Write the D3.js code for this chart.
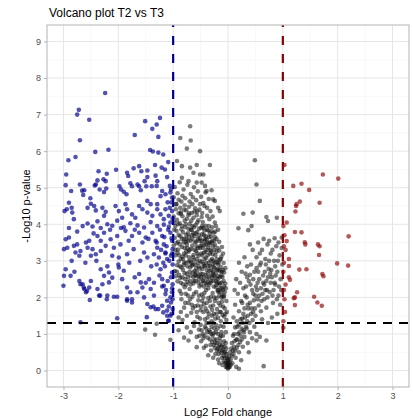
<!DOCTYPE html>
<html>
<head>
<meta charset="utf-8">
<script src="https://cdn.jsdelivr.net/npm/d3@7"></script>
<style>
  body { margin: 0; background: #fff; }
  svg { display: block; font-family: "Liberation Sans", Arial, sans-serif; }
</style>
</head>
<body>
<div id="chart"></div>
<script>
// volcano plot T2 vs T3 — points as [log2FC, -log10 p]
const xTicks = [-3, -2, -1, 0, 1, 2, 3];
const yTicks = [0, 1, 2, 3, 4, 5, 6, 7, 8, 9];
const fcCut = 1;
const pCut = 1.3;

const downPoints = [
  [-2.24,7.59],[-2.72,7.13],[-2.75,7.0],[-2.53,6.86],[-2.7,6.3],[-1.51,6.82],[-1.24,6.91],[-1.3,6.73],[-1.38,6.61],[-1.7,6.44],[-1.27,6.39],
  [-2.42,5.98],[-2.18,6.04],[-1.42,6.03],[-1.37,5.99],[-1.27,5.96],[-1.18,5.91],[-2.91,5.75],[-2.78,5.84],[-1.09,5.7],
  [-2.95,5.36],[-2.36,5.45],[-2.04,5.49],[-1.84,5.41],[-1.82,5.32],[-1.72,5.53],[-1.62,5.59],[-1.58,5.45],[-1.47,5.47],[-1.33,5.62],[-1.21,5.55],[-1.15,5.5],
  [-2.27,5.23],[-2.21,5.38],[-2.7,5.09],[-2.96,5.07],[-2.86,4.91],[-2.66,4.92],[-2.62,4.93],[-2.43,5.06],[-2.34,4.95],[-2.22,4.98],[-1.98,5.04],[-1.95,4.95],
  [-1.85,4.82],[-1.75,5.04],[-1.62,5.04],[-1.49,5.04],[-1.39,5.04],[-1.3,5.05],[-2.51,4.71],[-2.64,4.8],
  [-1.47,5.29],[-1.32,5.33],[-1.11,5.29],[-2.41,5.09],[-2.38,5.2],[-2.23,5.18],[-2.26,4.88],[-1.9,4.89],[-1.78,5.12],[-1.65,5.09],[-1.52,5.18],
  [-1.59,4.93],[-1.29,5.18],[-1.2,4.91],[-1.14,4.82],[-1.23,4.77],[-1.05,4.87],[-1.02,4.73],
  [-2.9,4.59],[-2.85,4.45],[-2.94,4.41],[-2.98,4.36],[-2.84,4.32],[-2.81,4.14],[-2.56,4.45],[-2.5,4.56],[-2.44,4.5],[-2.41,4.38],[-2.29,4.45],[-2.26,4.23],
  [-2.23,4.34],[-2.05,4.5],[-1.99,4.36],[-1.87,4.55],[-1.84,4.41],[-1.93,4.18],[-1.75,4.27],[-1.69,4.18],[-1.62,4.5],[-1.56,4.41],[-1.47,4.64],[-1.41,4.55],
  [-1.47,4.32],[-1.38,4.23],[-1.29,4.55],[-1.29,4.41],[-1.23,4.27],[-1.17,4.14],[-1.14,4.41],[-1.08,4.23],[-1.05,4.05],[-1.02,4.36],
  [-2.56,4.02],[-2.47,3.94],[-2.38,4.08],[-2.32,3.9],[-2.2,4.0],[-2.11,3.96],[-2.02,4.1],[-1.9,3.92],[-1.78,4.03],[-1.65,3.97],[-1.53,3.91],[-1.41,4.06],
  [-1.29,3.95],[-1.17,3.99],[-1.08,3.93],
  [-2.96,3.59],[-2.9,3.64],[-2.99,3.32],[-2.93,3.36],[-2.81,3.41],[-2.75,3.45],[-2.78,3.23],[-2.69,3.27],[-2.71,3.14],[-2.59,3.5],[-2.53,3.55],[-2.56,3.36],
  [-2.47,3.32],[-2.5,3.14],[-2.41,3.18],[-2.38,3.68],[-2.32,3.55],[-2.26,3.77],[-2.23,3.41],[-2.32,3.27],[-2.14,3.59],[-2.08,3.36],[-2.02,3.68],[-1.96,3.45],
  [-2.11,3.14],[-1.99,3.09],[-1.87,3.82],[-1.81,3.55],[-1.75,3.68],[-1.72,3.32],[-1.84,3.18],[-1.62,3.77],[-1.56,3.5],[-1.5,3.64],[-1.53,3.23],[-1.47,3.09],
  [-1.38,3.77],[-1.32,3.55],[-1.29,3.36],[-1.35,3.18],[-1.26,3.09],[-1.2,3.68],[-1.17,3.45],[-1.14,3.23],[-1.11,3.05],
  [-1.05,3.77],[-1.02,3.55],[-1.01,3.32],[-1.04,3.14],
  [-2.96,2.77],[-2.87,2.59],[-2.99,2.59],[-3.0,2.32],[-2.71,2.45],[-2.65,2.36],[-2.62,2.23],[-2.59,2.14],[-2.5,2.45],[-2.53,2.27],[-2.38,2.23],[-2.35,2.05],
  [-2.32,2.77],[-2.26,2.59],[-2.17,2.68],[-2.11,2.54],[-2.29,2.36],[-2.17,2.41],[-2.2,2.05],[-2.08,2.02],
  [-1.99,2.82],[-1.9,2.73],[-1.93,2.5],[-1.84,2.27],[-1.78,2.14],[-1.75,1.86],[-1.84,1.95],
  [-1.62,2.64],[-1.59,2.41],[-1.56,2.27],[-1.65,2.14],[-1.53,2.0],
  [-1.44,2.5],[-1.41,2.23],[-1.35,2.05],[-1.47,1.82],[-1.41,1.73],[-1.32,1.68],
  [-1.23,2.77],[-1.2,2.5],[-1.17,2.32],[-1.14,2.09],[-1.11,1.91],[-1.2,1.77],[-1.11,1.64],[-1.05,1.5],[-1.08,1.36],
  [-1.02,2.68],[-1.01,2.36],[-1.02,2.14],[-1.04,1.86],[-1.01,1.68],
  [-2.02,1.43],[-2.69,1.32],[-2.69,2.36],[-2.63,2.27],[-2.57,2.18],[-2.52,1.93],[-2.33,2.05],[-2.21,1.95],[-2.02,2.02],
  [-1.84,1.91],[-1.75,1.95],[-1.48,1.46],[-1.36,1.75],[-1.27,1.68],[-1.18,1.59],[-1.11,1.5],[-1.09,1.36],
  [-1.03,4.6],[-1.06,4.45],[-1.01,4.15],[-1.09,3.85],[-1.03,3.62],[-1.12,3.4],[-1.02,3.2],[-1.07,3.0],[-1.01,2.9],[-1.15,2.85],[-1.04,2.55],[-1.1,2.45],
  [-1.02,2.25],[-1.13,2.2],[-1.05,2.0],[-1.01,1.95],[-1.08,1.75],[-1.03,1.55],[-1.16,3.65],[-1.22,3.3],[-1.18,2.95],[-1.25,2.6],[-1.2,2.3],[-1.06,5.05],
  [-1.1,4.6],[-1.04,4.95],[-1.14,3.2],[-1.24,3.85],[-1.3,2.9],[-1.35,2.4],
  [-2.65,3.95],[-2.75,3.8],[-2.9,3.9],[-2.45,3.75],[-2.15,3.85],[-1.95,3.9],[-1.7,3.85],[-1.45,3.6],[-2.85,3.0],[-2.6,2.95],[-2.4,3.0],[-2.0,2.9],
  [-1.8,2.95],[-1.6,3.0],[-1.4,2.85],[-2.8,2.7],[-2.2,2.85],[-1.7,2.55],[-1.5,2.4],[-1.3,3.5]
];

const upPoints = [
  [1.73,5.36],[2.01,5.25],[1.19,5.05],[1.34,5.11],[1.48,4.94],[1.31,4.62],[1.25,4.55],[1.24,4.5],[1.23,4.35],[1.67,4.59],[1.03,5.62],[1.07,4.05],
  [1.22,3.79],[1.34,3.78],[2.2,3.67],[1.07,3.54],[1.4,3.51],[1.41,3.45],[1.64,3.45],[1.67,3.4],[1.02,3.4],[1.05,3.3],[1.66,3.16],[1.11,3.05],
  [1.99,2.93],[2.19,2.87],[1.3,2.76],[1.43,2.77],[1.72,2.64],[1.74,2.58],[1.11,2.55],[1.11,2.86],[1.13,2.48],[1.26,2.14],[1.22,2.0],[1.2,1.98],
  [1.22,1.79],[1.57,2.02],[1.63,1.86],[1.71,1.77],[1.02,2.2],[1.04,1.6],[1.01,1.35],[1.01,3.95],[1.03,3.7],[1.02,2.95],[1.01,2.7],[1.03,1.95],[1.05,2.35]
];

const nsPoints = [
  // upper sparse part of the left arm
  [-0.87,6.36],[-0.69,6.68],[-0.68,6.29],[-0.93,5.73],[-0.75,6.07],[-0.51,6.0],[-0.84,5.59],[-0.69,5.55],[-0.57,5.62],[-0.33,5.62],[-0.63,5.41],
  [-0.51,5.36],[-0.45,5.36],[-0.84,5.27],[-0.72,5.18],[-0.57,5.14],[-0.48,5.14],[-0.42,5.05],[-0.39,4.91],[-0.3,4.93],[-0.27,4.68],[-0.24,4.64],
  [-0.15,4.36],[-0.18,4.45],
  [-0.97,5.02],[-0.92,4.85],[-0.88,5.15],[-0.85,4.62],[-0.81,4.95],[-0.78,4.71],[-0.74,5.08],[-0.71,4.48],[-0.68,4.83],[-0.65,4.55],[-0.62,5.01],
  [-0.58,4.66],[-0.55,4.9],[-0.52,4.4],[-0.49,4.75],[-0.45,4.58],[-0.41,4.87],[-0.38,4.45],[-0.35,4.69],[-0.32,4.36],[-0.95,4.41],[-0.9,4.67],
  [-0.86,4.33],[-0.83,4.78],[-0.76,4.38],[-0.7,4.62],[-0.66,4.31],[-0.6,4.44],[-0.56,4.35],[-0.47,4.31],[-0.99,4.74],[-0.94,4.55],[-0.79,4.52],
  [-0.64,4.74],[-0.43,4.5],
  [-0.99,4.21],[-0.96,3.95],[-0.93,4.12],[-0.9,3.71],[-0.88,4.03],[-0.85,3.86],[-0.83,4.22],[-0.8,3.6],[-0.78,3.92],[-0.75,4.15],[-0.73,3.75],
  [-0.7,4.01],[-0.68,3.55],[-0.66,3.84],[-0.63,4.18],[-0.61,3.68],[-0.59,3.98],[-0.56,3.79],[-0.54,4.11],[-0.51,3.62],[-0.49,3.9],[-0.46,4.06],
  [-0.44,3.71],[-0.41,3.96],[-0.39,3.58],[-0.36,3.83],[-0.34,4.14],[-0.31,3.66],[-0.29,3.92],[-0.26,3.77],[-0.24,4.05],[-0.21,3.6],[-0.18,3.85],
  [-0.16,3.52],[-0.97,3.63],[-0.94,3.82],[-0.91,3.52],[-0.87,3.67],[-0.82,3.78],[-0.77,3.51],[-0.72,3.88],[-0.65,3.6],[-0.58,3.53],[-0.53,3.88],
  [-0.48,3.55],[-0.43,3.83],[-0.38,4.23],[-0.33,3.5],[-0.28,4.21],[-0.22,3.95],[-0.98,4.05],[-0.86,4.28],[-0.76,3.71],[-0.62,3.92],[-0.57,4.25],
  [-0.47,3.73],[-0.4,3.67],[-0.35,3.95],[-0.3,3.81],[-0.25,3.55],
  [-0.99,3.42],[-0.96,3.15],[-0.93,2.88],[-0.91,3.31],[-0.89,2.61],[-0.86,3.05],[-0.84,3.38],[-0.82,2.75],[-0.8,3.2],[-0.77,2.95],[-0.75,3.45],
  [-0.73,2.55],[-0.71,3.1],[-0.69,2.82],[-0.67,3.33],[-0.64,2.68],[-0.62,3.02],[-0.6,2.9],[-0.58,3.27],[-0.56,2.58],[-0.54,3.14],[-0.52,2.79],
  [-0.5,3.4],[-0.48,2.97],[-0.46,2.64],[-0.44,3.22],[-0.42,2.86],[-0.4,3.08],[-0.38,2.52],[-0.36,3.36],[-0.34,2.73],[-0.32,3.01],[-0.3,2.6],
  [-0.28,3.18],[-0.26,2.84],[-0.24,3.44],[-0.22,2.66],[-0.2,3.05],[-0.18,2.9],[-0.16,3.28],[-0.14,2.71],[-0.12,3.12],[-0.1,2.56],[-0.08,2.94],
  [-0.97,2.72],[-0.94,3.48],[-0.9,2.98],[-0.87,2.53],[-0.83,3.12],[-0.79,2.66],[-0.76,3.26],[-0.72,2.98],[-0.68,2.6],[-0.65,3.42],[-0.61,2.72],
  [-0.57,3.05],[-0.53,2.5],[-0.49,3.2],[-0.45,2.92],[-0.41,2.62],[-0.37,3.15],[-0.33,2.86],[-0.29,2.54],[-0.25,3.3],[-0.21,2.96],[-0.17,2.58],
  [-0.13,2.83],[-0.11,3.38],[-0.95,2.58],[-0.81,2.88],[-0.74,3.35],[-0.66,2.87],[-0.59,2.62],[-0.55,3.35],[-0.47,2.78],[-0.43,3.43],[-0.39,2.75],
  [-0.35,2.95],[-0.31,3.26],[-0.27,2.7],[-0.23,3.15],[-0.19,2.78],[-0.15,3.02],[-0.07,2.68],[-0.92,3.22],[-0.85,2.82],[-0.7,2.7],[-0.63,3.16],
  [-0.51,3.0],[-0.44,2.55],[-0.27,3.4],[-0.09,3.2],
  [-0.96,3.3],[-0.93,2.7],[-0.9,4.3],[-0.88,3.45],[-0.86,2.4],[-0.84,3.95],[-0.82,3.05],[-0.8,4.4],[-0.78,2.5],[-0.76,3.6],[-0.74,2.85],[-0.72,4.25],
  [-0.7,3.3],[-0.68,2.35],[-0.66,3.7],[-0.64,3.1],[-0.62,2.45],[-0.6,3.5],[-0.58,2.8],[-0.56,4.05],[-0.54,2.4],[-0.52,3.55],[-0.5,2.65],[-0.48,4.2],
  [-0.46,3.35],[-0.44,2.3],[-0.42,3.6],[-0.4,2.95],[-0.38,3.85],[-0.36,2.25],[-0.34,3.45],[-0.32,2.4],[-0.3,3.5],[-0.28,2.9],[-0.26,2.3],[-0.24,3.65],
  [-0.22,2.45],[-0.2,2.75],[-0.18,2.2],[-0.16,2.75],[-0.14,2.25],[-0.12,2.6],[-0.1,2.05],[-0.08,2.45],[-0.06,2.15],[-0.05,2.8],[-0.98,3.85],[-0.95,4.55],
  [-0.91,4.0],[-0.89,3.15],[-0.87,4.45],[-0.81,3.5],[-0.79,4.1],[-0.77,3.15],[-0.73,3.55],[-0.71,4.3],[-0.69,3.0],[-0.67,4.1],[-0.63,3.75],[-0.61,4.35],
  [-0.57,3.4],[-0.55,2.95],[-0.53,3.7],[-0.51,4.55],[-0.49,2.55],[-0.47,3.15],[-0.45,3.9],[-0.43,3.05],[-0.41,2.4],[-0.39,3.3],[-0.37,2.65],[-0.35,3.65],
  [-0.33,3.2],[-0.31,2.75],[-0.29,3.55],[-0.27,3.0],[-0.25,2.6],[-0.23,3.8],[-0.21,2.35],[-0.19,3.35],[-0.17,2.95],[-0.15,2.35],[-0.13,3.05],[-0.11,2.25],
  [-0.09,2.75],[-0.07,2.3],
  [-0.83,2.55],[-0.79,3.35],[-0.77,4.0],[-0.75,2.65],[-0.71,3.65],[-0.69,2.45],[-0.67,2.95],[-0.65,3.95],[-0.63,2.55],[-0.61,3.3],[-0.59,3.75],[-0.57,2.7],
  [-0.55,3.6],[-0.53,2.85],[-0.51,3.35],[-0.49,2.35],[-0.47,3.95],[-0.45,2.45],[-0.43,3.55],[-0.41,3.25],[-0.39,2.35],[-0.37,3.5],[-0.35,2.55],[-0.33,3.75],
  [-0.31,2.45],[-0.29,3.05],[-0.27,2.45],[-0.25,2.8],[-0.23,2.55],[-0.21,3.25],[-0.19,2.5],[-0.17,2.15],[-0.15,2.55],[-0.13,2.15],[-0.11,2.7],[-0.07,2.05],
  [-0.88,2.85],[-0.84,3.6],[-0.8,2.95],[-0.76,2.35],[-0.72,3.25],[-0.68,3.85],[-0.64,2.9],[-0.6,2.6],[-0.56,3.2],[-0.52,2.6],[-0.48,3.45],[-0.44,2.85],
  [-0.4,3.45],[-0.36,2.85],[-0.32,3.3],[-0.28,2.65],[-0.24,2.95],[-0.2,2.4],[-0.16,2.4],[-0.12,2.0],
  [-0.92,2.44],[-0.88,2.18],[-0.85,1.95],[-0.82,2.36],[-0.8,1.72],[-0.77,2.1],[-0.74,2.42],[-0.72,1.85],[-0.7,2.23],[-0.67,1.58],[-0.65,2.02],
  [-0.63,2.38],[-0.6,1.76],[-0.58,2.15],[-0.56,1.47],[-0.54,1.92],[-0.52,2.3],[-0.5,1.65],[-0.48,2.08],[-0.46,2.45],[-0.44,1.82],[-0.42,1.4],
  [-0.4,2.2],[-0.38,1.62],[-0.36,1.98],[-0.34,2.35],[-0.32,1.75],[-0.3,1.35],[-0.28,2.12],[-0.26,1.55],[-0.24,1.9],[-0.22,2.28],[-0.2,1.68],
  [-0.18,1.44],[-0.16,2.05],[-0.14,1.78],[-0.12,2.4],[-0.1,1.52],[-0.08,2.0],[-0.06,1.7],[-0.04,2.25],[-0.03,1.38],[-0.86,1.6],[-0.79,2.28],
  [-0.75,1.5],[-0.69,1.95],[-0.64,1.7],[-0.59,2.45],[-0.55,1.78],[-0.51,1.42],[-0.47,1.9],[-0.43,2.12],[-0.39,1.85],[-0.35,1.55],[-0.31,2.02],
  [-0.27,1.78],[-0.23,1.42],[-0.19,2.18],[-0.15,1.6],[-0.11,1.88],[-0.07,1.48],[-0.05,2.38],[-0.02,1.6],[-0.9,1.45],[-0.83,1.38],[-0.61,1.32],
  [-0.45,1.6],[-0.37,2.42],[-0.29,1.66],[-0.21,1.98],[-0.13,1.35],[-0.09,2.2],
  [-0.85,2.1],[-0.78,1.85],[-0.73,2.05],[-0.66,1.8],[-0.62,2.1],[-0.57,1.6],[-0.53,2.05],[-0.49,1.75],[-0.45,2.0],[-0.41,1.7],[-0.37,1.45],[-0.33,1.9],
  [-0.29,1.5],[-0.25,2.0],[-0.21,1.55],[-0.17,1.85],[-0.13,1.6],[-0.09,1.75],[-0.05,1.55],[-0.03,1.9],
  // bottom of the V
  [-0.75,1.18],[-0.68,1.05],[-0.62,1.22],[-0.57,0.92],[-0.53,1.12],[-0.49,0.8],[-0.46,1.0],[-0.42,1.2],[-0.4,0.68],[-0.37,0.9],[-0.34,1.1],
  [-0.31,0.55],[-0.29,0.78],[-0.26,1.02],[-0.24,0.62],[-0.21,0.85],[-0.19,1.15],[-0.17,0.45],[-0.15,0.7],[-0.13,0.95],[-0.11,0.35],[-0.09,0.58],
  [-0.07,0.8],[-0.05,0.22],[-0.04,1.05],[-0.03,0.45],[-0.02,0.12],[-0.01,0.3],[0.0,0.05],[0.01,0.18],[0.02,0.4],[-0.06,0.65],[-0.12,0.48],
  [-0.18,0.3],[-0.22,1.25],[-0.33,0.85],[-0.44,0.62],[-0.57,0.64],[-0.8,0.9],[-0.9,1.1],[-0.72,0.82],[-0.36,0.42],[-0.08,1.2],[-0.14,1.22],
  [-0.27,0.35],[-0.16,0.2],[-0.1,0.15],[-0.2,0.55],[-0.3,1.2],
  [-0.5,1.25],[-0.45,0.88],[-0.38,1.05],[-0.32,0.7],[-0.28,0.95],[-0.23,0.75],[-0.19,0.6],[-0.15,0.9],[-0.12,0.65],[-0.08,0.4],[-0.05,0.5],[-0.03,0.2],
  [0.0,0.25],[0.02,0.1],[-0.01,0.08],[0.04,0.5],[0.07,0.4],[0.11,0.65],[0.17,0.85],[0.23,0.95],[0.28,1.1],[-0.25,1.15],[-0.4,1.15],
  [-0.35,1.3],[-0.3,1.0],[-0.27,1.3],[-0.25,0.85],[-0.22,1.05],[-0.2,0.75],[-0.18,1.0],[-0.16,0.55],[-0.14,0.8],[-0.12,1.05],[-0.1,0.7],[-0.09,0.95],
  [-0.07,0.5],[-0.06,0.35],[-0.04,0.75],[-0.03,0.6],[-0.02,0.35],[-0.01,0.2],[0.01,0.3],[0.03,0.22],[0.0,0.15],[-0.04,0.1],[0.05,0.15],[-0.08,0.25],
  [-0.11,0.55],[-0.17,0.65],[-0.23,0.45],[-0.26,0.7],[-0.33,1.05],[-0.39,1.3],[-0.43,0.95],[-0.48,1.1],[-0.52,0.95],
  [0.03,0.1],[0.05,0.3],[0.06,0.6],[0.08,0.2],[0.1,0.45],[0.12,0.8],[0.14,0.35],[0.16,0.62],[0.18,1.0],[0.2,0.5],[0.22,0.78],[0.25,1.15],
  [0.27,0.65],[0.3,0.92],[0.33,1.2],[0.36,0.75],[0.4,1.05],[0.44,0.88],[0.48,1.2],[0.52,1.0],[0.7,0.82],[0.65,0.12],[0.15,0.1],[0.24,0.28],
  [0.09,0.95],[0.13,1.18],[0.38,0.5],[0.58,0.92],[0.2,0.05],[0.52,0.82],
  // right arm
  [0.07,0.75],[0.09,0.55],[0.11,1.0],[0.13,0.55],[0.15,0.85],[0.17,1.2],[0.19,0.7],[0.21,1.05],[0.23,1.4],[0.25,0.85],[0.27,1.3],[0.29,1.05],
  [0.31,1.45],[0.34,1.15],[0.36,1.8],[0.39,1.3],[0.43,1.7],[0.46,2.1],[0.49,1.7],[0.53,2.2],[0.57,2.5],[0.61,1.9],[0.64,2.4],[0.68,2.2],
  [0.72,2.0],[0.77,2.65],[0.81,2.05],[0.85,2.4],[0.93,2.3],
  [0.1,1.45],[0.13,1.8],[0.16,1.35],[0.18,2.1],[0.2,1.62],[0.22,2.4],[0.24,1.9],[0.26,1.42],[0.28,2.25],[0.3,1.7],[0.32,2.65],[0.34,2.0],
  [0.36,1.5],[0.38,2.45],[0.4,1.85],[0.42,2.9],[0.44,2.2],[0.46,1.6],[0.48,2.7],[0.5,2.05],[0.52,3.1],[0.54,2.4],[0.56,1.78],[0.58,2.88],
  [0.6,2.25],[0.62,3.3],[0.64,2.6],[0.66,1.95],[0.68,3.05],[0.7,2.45],[0.72,3.45],[0.74,2.78],[0.76,2.15],[0.78,3.2],[0.8,2.55],[0.82,1.85],
  [0.84,3.0],[0.86,2.35],[0.88,3.4],[0.9,2.7],[0.92,2.05],[0.94,3.15],[0.96,2.5],[0.98,3.35],[0.25,2.7],[0.3,3.1],[0.35,2.85],[0.45,3.3],
  [0.55,3.5],[0.65,3.6],[0.75,3.55],[0.85,3.62],[0.92,3.5],[0.15,2.5],[0.2,2.95],[0.4,3.45],[0.5,1.5],[0.6,1.62],[0.7,1.72],[0.8,1.45],
  [0.9,1.55],[0.95,1.8],[0.35,1.35],[0.45,1.38],[0.62,1.4],[0.73,1.3],[0.12,2.2],[0.28,1.55],[0.4,2.62],[0.52,2.8],[0.57,2.05],[0.66,2.35],
  [0.78,2.4],[0.86,2.85],[0.47,1.92],[0.33,2.3],[0.69,2.9],[0.81,3.3],
  [0.2,1.25],[0.26,1.85],[0.31,2.05],[0.37,1.7],[0.41,2.35],[0.46,2.5],[0.51,2.3],[0.55,2.7],[0.6,2.95],[0.63,2.1],[0.67,2.7],[0.71,2.2],
  [0.75,3.0],[0.79,2.75],[0.83,2.2],[0.87,2.6],[0.91,3.0],[0.97,2.2],[0.99,2.9],[0.35,2.55],[0.42,1.55],[0.54,1.95],[0.58,3.2],[0.73,2.55],[0.89,1.95],
  [0.28,4.29],[0.45,4.32],[0.7,4.2],[0.73,4.09],[0.19,3.89],[0.37,3.84],[0.43,3.95],[0.49,5.75],[0.52,5.09],[0.58,4.64],[0.89,4.18],[0.98,3.64],
  // outside the fold-change band but not significant
  [-1.51,1.12],[-1.33,0.98],[-1.05,0.84],[-1.3,1.28],[1.01,1.17]
];

const width = 413;
const height = 420;
const margin = { top: 25, right: 4, bottom: 33, left: 47 };

const svg = d3
  .select("#chart")
  .append("svg")
  .attr("width", width)
  .attr("height", height);

const x = d3
  .scaleLinear()
  .domain([-3.3, 3.3])
  .range([margin.left, width - margin.right]);

const y = d3
  .scaleLinear()
  .domain([-0.45, 9.45])
  .range([height - margin.bottom, margin.top]);

// panel grid (major + minor)
const grid = svg.append("g");
const xMinor = d3.range(-3.5, 3.6, 1);
const yMinor = d3.range(0.5, 9.5, 1);

grid
  .selectAll(".xminor")
  .data(xMinor.filter((d) => d > -3.3 && d < 3.3))
  .join("line")
  .attr("x1", (d) => x(d))
  .attr("x2", (d) => x(d))
  .attr("y1", y.range()[0])
  .attr("y2", y.range()[1])
  .attr("stroke", "#f4f4f4")
  .attr("stroke-width", 0.6);

grid
  .selectAll(".yminor")
  .data(yMinor)
  .join("line")
  .attr("x1", x.range()[0])
  .attr("x2", x.range()[1])
  .attr("y1", (d) => y(d))
  .attr("y2", (d) => y(d))
  .attr("stroke", "#f4f4f4")
  .attr("stroke-width", 0.6);

grid
  .selectAll(".xmajor")
  .data(xTicks)
  .join("line")
  .attr("x1", (d) => x(d))
  .attr("x2", (d) => x(d))
  .attr("y1", y.range()[0])
  .attr("y2", y.range()[1])
  .attr("stroke", "#e6e6e6")
  .attr("stroke-width", 1);

grid
  .selectAll(".ymajor")
  .data(yTicks)
  .join("line")
  .attr("x1", x.range()[0])
  .attr("x2", x.range()[1])
  .attr("y1", (d) => y(d))
  .attr("y2", (d) => y(d))
  .attr("stroke", "#e6e6e6")
  .attr("stroke-width", 1);

// points
const pts = svg.append("g");

function drawPoints(data, color, opacity) {
  pts
    .append("g")
    .selectAll("circle")
    .data(data)
    .join("circle")
    .attr("cx", (d) => x(d[0]))
    .attr("cy", (d) => y(d[1]))
    .attr("r", 2.3)
    .attr("fill", color)
    .attr("fill-opacity", opacity);
}

drawPoints(nsPoints, "#111111", 0.55);
drawPoints(downPoints, "#00008B", 0.68);
drawPoints(upPoints, "#8B0000", 0.65);

// threshold lines
const lines = svg.append("g").attr("fill", "none").attr("stroke-width", 2.2);

lines
  .append("line")
  .attr("x1", x(-fcCut))
  .attr("x2", x(-fcCut))
  .attr("y1", y.range()[0])
  .attr("y2", y.range()[1])
  .attr("stroke", "#00008B")
  .attr("stroke-dasharray", "9,9");

lines
  .append("line")
  .attr("x1", x(fcCut))
  .attr("x2", x(fcCut))
  .attr("y1", y.range()[0])
  .attr("y2", y.range()[1])
  .attr("stroke", "#8B0000")
  .attr("stroke-dasharray", "9,9");

lines
  .append("line")
  .attr("x1", x.range()[0])
  .attr("x2", x.range()[1])
  .attr("y1", y(pCut))
  .attr("y2", y(pCut))
  .attr("stroke", "#000000")
  .attr("stroke-dasharray", "9,7");

// panel border
svg
  .append("rect")
  .attr("x", x.range()[0])
  .attr("y", y.range()[1])
  .attr("width", x.range()[1] - x.range()[0])
  .attr("height", y.range()[0] - y.range()[1])
  .attr("fill", "none")
  .attr("stroke", "#b3b3b3")
  .attr("stroke-width", 1);

// axes
const xAxis = svg
  .append("g")
  .attr("transform", `translate(0,${y.range()[0]})`)
  .call(d3.axisBottom(x).tickValues(xTicks).tickFormat((d) => String(d)).tickSize(3).tickPadding(3));

const yAxis = svg
  .append("g")
  .attr("transform", `translate(${x.range()[0]},0)`)
  .call(d3.axisLeft(y).tickValues(yTicks).tickFormat((d) => String(d)).tickSize(3).tickPadding(3));

[xAxis, yAxis].forEach((a) => {
  a.select(".domain").remove();
  a.selectAll(".tick line").attr("stroke", "#b3b3b3");
  a.selectAll(".tick text")
    .attr("fill", "#4d4d4d")
    .style("font-size", "9px")
    .style("font-family", "'Liberation Sans', Arial, sans-serif");
});

// titles
svg
  .append("text")
  .attr("x", margin.left + 2)
  .attr("y", 17)
  .attr("fill", "#000")
  .style("font-size", "12px")
  .text("Volcano plot T2 vs T3");

svg
  .append("text")
  .attr("x", (x.range()[0] + x.range()[1]) / 2)
  .attr("y", 416)
  .attr("text-anchor", "middle")
  .attr("fill", "#000")
  .style("font-size", "11px")
  .text("Log2 Fold change");

svg
  .append("text")
  .attr("transform", `translate(30,${(y.range()[0] + y.range()[1]) / 2}) rotate(-90)`)
  .attr("text-anchor", "middle")
  .attr("fill", "#000")
  .style("font-size", "11px")
  .text("-Log10 p-value");
</script>
</body>
</html>
